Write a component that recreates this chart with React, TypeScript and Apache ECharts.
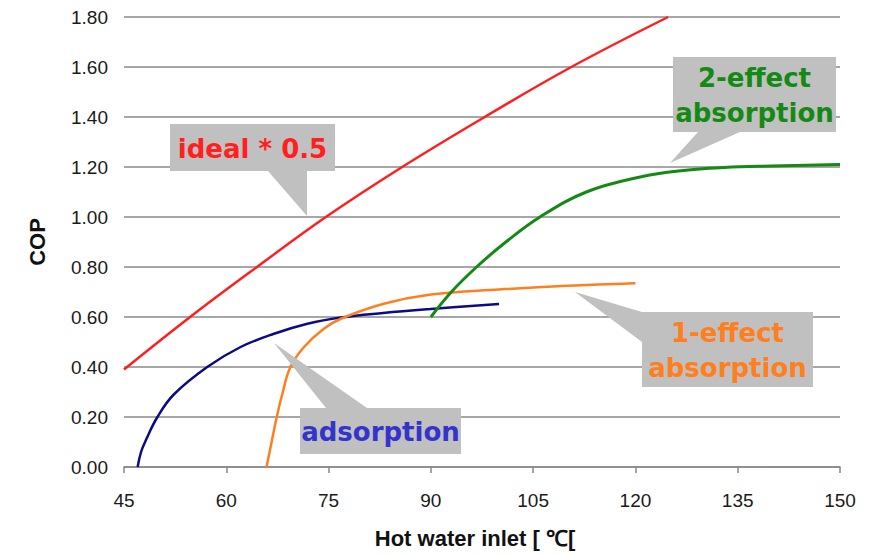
import React, { useEffect, useRef } from "react";
import * as echarts from "echarts";

// ---- data ----
const xTicks = [45, 60, 75, 90, 105, 120, 135, 150];
const yTicks = [0, 0.2, 0.4, 0.6, 0.8, 1.0, 1.2, 1.4, 1.6, 1.8];

const idealHalf: [number, number][] = [
  [45, 0.39], [54.7, 0.6], [64.5, 0.8], [74.6, 1.0], [85.8, 1.2],
  [97.9, 1.4], [110.6, 1.6], [124.8, 1.8],
];
const adsorption: [number, number][] = [
  [47.0, 0], [47.5, 0.06], [48.2, 0.107], [49.9, 0.2], [52.3, 0.29],
  [57.2, 0.4], [62.1, 0.48], [67, 0.533], [71.9, 0.573],
  [76.8, 0.598], [83, 0.616], [90, 0.632], [100, 0.652],
];
const oneEffect: [number, number][] = [
  [65.9, 0], [66.7, 0.107], [67.4, 0.2], [68.2, 0.29], [69.4, 0.4],
  [71.4, 0.48], [74.3, 0.553], [76.8, 0.593], [83.1, 0.653], [90, 0.69],
  [100, 0.71], [110, 0.725], [120, 0.735],
];
const twoEffect: [number, number][] = [
  [90, 0.6], [93, 0.7], [96.7, 0.8], [101, 0.9], [106, 1.0], [112.8, 1.1],
  [120.7, 1.16], [127, 1.186], [133, 1.198], [140, 1.204], [150, 1.21],
];

const labels = ["ideal * 0.5", "adsorption", "2-effect\nabsorption", "1-effect\nabsorption"];
const xName = "Hot water inlet [ ℃[";
const yName = "COP";

const RED = "#ff1f1f";
const NAVY = "#0b0b86";
const ORANGE = "#ff7f1e";
const GREEN = "#148a14";
const BOX = "#c0c0c0";

export default function App() {
  const ref = useRef<HTMLDivElement>(null);
  useEffect(() => {
    if (!ref.current) return;
    const chart = echarts.init(ref.current, null, { renderer: "svg" });
    const lineSeries = (name: string, data: [number, number][], color: string, width: number) => ({
      name,
      type: "line",
      data,
      smooth: 0.4,
      showSymbol: false,
      symbol: "none",
      lineStyle: { color, width },
      z: 3,
    });
    const labelFont = {
      fontFamily: "DejaVu Sans",
      fontWeight: "bold",
      fontSize: 26,
    };
    const callout = (
      pts: number[][],
      box: { x: number; y: number; w: number; h: number },
      text: string,
      color: string
    ) => [
      { type: "polygon", z: 10, shape: { points: pts }, style: { fill: BOX } },
      { type: "rect", z: 10, shape: { x: box.x, y: box.y, width: box.w, height: box.h }, style: { fill: BOX } },
      {
        type: "text",
        z: 11,
        x: box.x + box.w / 2,
        y: box.y + box.h / 2 + 1,
        style: {
          text,
          fill: color,
          align: "center",
          verticalAlign: "middle",
          lineHeight: 35,
          ...labelFont,
        },
      },
    ];
    chart.setOption({
      animation: false,
      backgroundColor: "#ffffff",
      grid: { left: 124, right: 35, top: 17, bottom: 87, containLabel: false },
      xAxis: {
        type: "value",
        min: 45,
        max: 150,
        interval: 15,
        name: xName,
        nameLocation: "middle",
        nameGap: 60,
        nameTextStyle: {
          fontFamily: "Liberation Sans",
          fontWeight: "bold",
          fontSize: 22,
          color: "#111",
          padding: [0, 14, 0, 0],
        },
        axisLine: { show: true, lineStyle: { color: "#888", width: 1.5 } },
        axisTick: { show: true, length: 6, lineStyle: { color: "#888", width: 1.5 } },
        axisLabel: {
          margin: 24,
          fontFamily: "Liberation Sans",
          fontSize: 19,
          color: "#1a1a1a",
          formatter: (v: number) => (xTicks.includes(v) ? String(v) : ""),
        },
        splitLine: { show: false },
      },
      yAxis: {
        type: "value",
        min: 0,
        max: 1.8,
        interval: 0.2,
        name: yName,
        nameLocation: "middle",
        nameGap: 76,
        nameTextStyle: { fontFamily: "Liberation Sans", fontWeight: "bold", fontSize: 22, color: "#111" },
        axisLine: { show: false },
        axisTick: { show: false },
        axisLabel: {
          margin: 16,
          fontFamily: "Liberation Sans",
          fontSize: 19,
          color: "#1a1a1a",
          formatter: (v: number) => {
            const t = yTicks.find((y) => Math.abs(y - v) < 1e-6);
            return t === undefined ? "" : t.toFixed(2);
          },
        },
        splitLine: { show: true, lineStyle: { color: "#8a8a8a", width: 1.5 } },
      },
      series: [
        lineSeries("ideal * 0.5", idealHalf, RED, 2.5),
        lineSeries("adsorption", adsorption, NAVY, 2.5),
        lineSeries("1-effect absorption", oneEffect, ORANGE, 2.5),
        lineSeries("2-effect absorption", twoEffect, GREEN, 3),
      ],
      graphic: [
        ...callout([[268, 171], [307, 171], [307, 216]], { x: 170, y: 124, w: 165, h: 47 }, labels[0], RED),
        ...callout([[274, 343], [326, 408], [367, 408]], { x: 300, y: 408, w: 161, h: 46 }, labels[1], "#3434cc"),
        ...callout([[670, 163], [698, 132], [740, 132]], { x: 673, y: 57, w: 163, h: 75 }, labels[2], GREEN),
        ...callout([[575, 292], [642, 312], [642, 342]], { x: 642, y: 312, w: 171, h: 75 }, labels[3], ORANGE),
      ],
    });
    return () => chart.dispose();
  }, []);
  return (
    <div
      ref={ref}
      style={{ position: "fixed", left: 0, top: 0, width: 875, height: 554, background: "#fff" }}
    />
  );
}
